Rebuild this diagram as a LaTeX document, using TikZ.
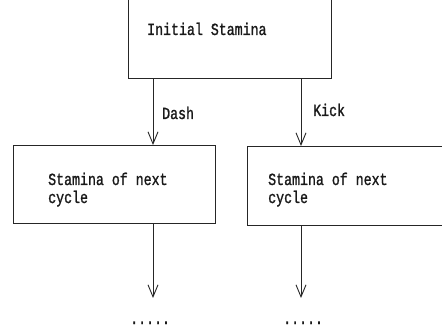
\documentclass[tikz,border=0pt]{standalone}
\usepackage{fontspec}
\newfontfamily\monofnt[FakeStretch=0.78,FakeBold=1.2]{Liberation Mono}
\usetikzlibrary{arrows.meta}
\tikzset{
  box/.style={draw=black!85, line width=0.9pt, minimum width=#1, anchor=north west, inner sep=0pt},
  lbl/.style={font=\monofnt\fontsize{17}{18}\selectfont, anchor=base west, inner sep=0pt, text=black!90},
  arr/.style={draw=black!85, line width=0.9pt, -{Straight Barb[length=12pt,width=10pt,line width=0.9pt]}},
}
\begin{document}
\begin{tikzpicture}[x=1pt,y=1pt]
\useasboundingbox (0,0) rectangle (442,-331);
\fill[white] (0,0) rectangle (442,-331);
% boxes
\node[box=203pt, minimum height=80pt] (top) at (128,2) {};
\node[box=202pt, minimum height=78pt] (left) at (13,-145) {};
\node[box=205pt, minimum height=79pt] (right) at (247,-146) {};
% texts
\node[lbl] (ttop) at (147,-35) {Initial Stamina};
\node[lbl] (tleft) at (48,-185) {Stamina of next};
\node[lbl] (tleft2) at (48,-203) {cycle};
\node[lbl] (tright) at (268,-185) {Stamina of next};
\node[lbl] (tright2) at (268,-203) {cycle};
\node[lbl] (dash) at (162,-119) {Dash};
\node[lbl] (kick) at (313,-116) {Kick};
\node[lbl] (dotsl) at (130,-324) {.....};
\node[lbl] (dotsr) at (283,-324) {.....};
% coordinates
\coordinate (endl) at (153,-298);
\coordinate (endr) at (301,-298);
% arrows
\draw[arr] (top.south -| endl) -- (left.north -| endl);
\draw[arr] (top.south -| endr) -- (right.north -| endr);
\draw[arr] (left.south -| endl) -- (endl);
\draw[arr] (right.south -| endr) -- (endr);
\end{tikzpicture}
\end{document}
